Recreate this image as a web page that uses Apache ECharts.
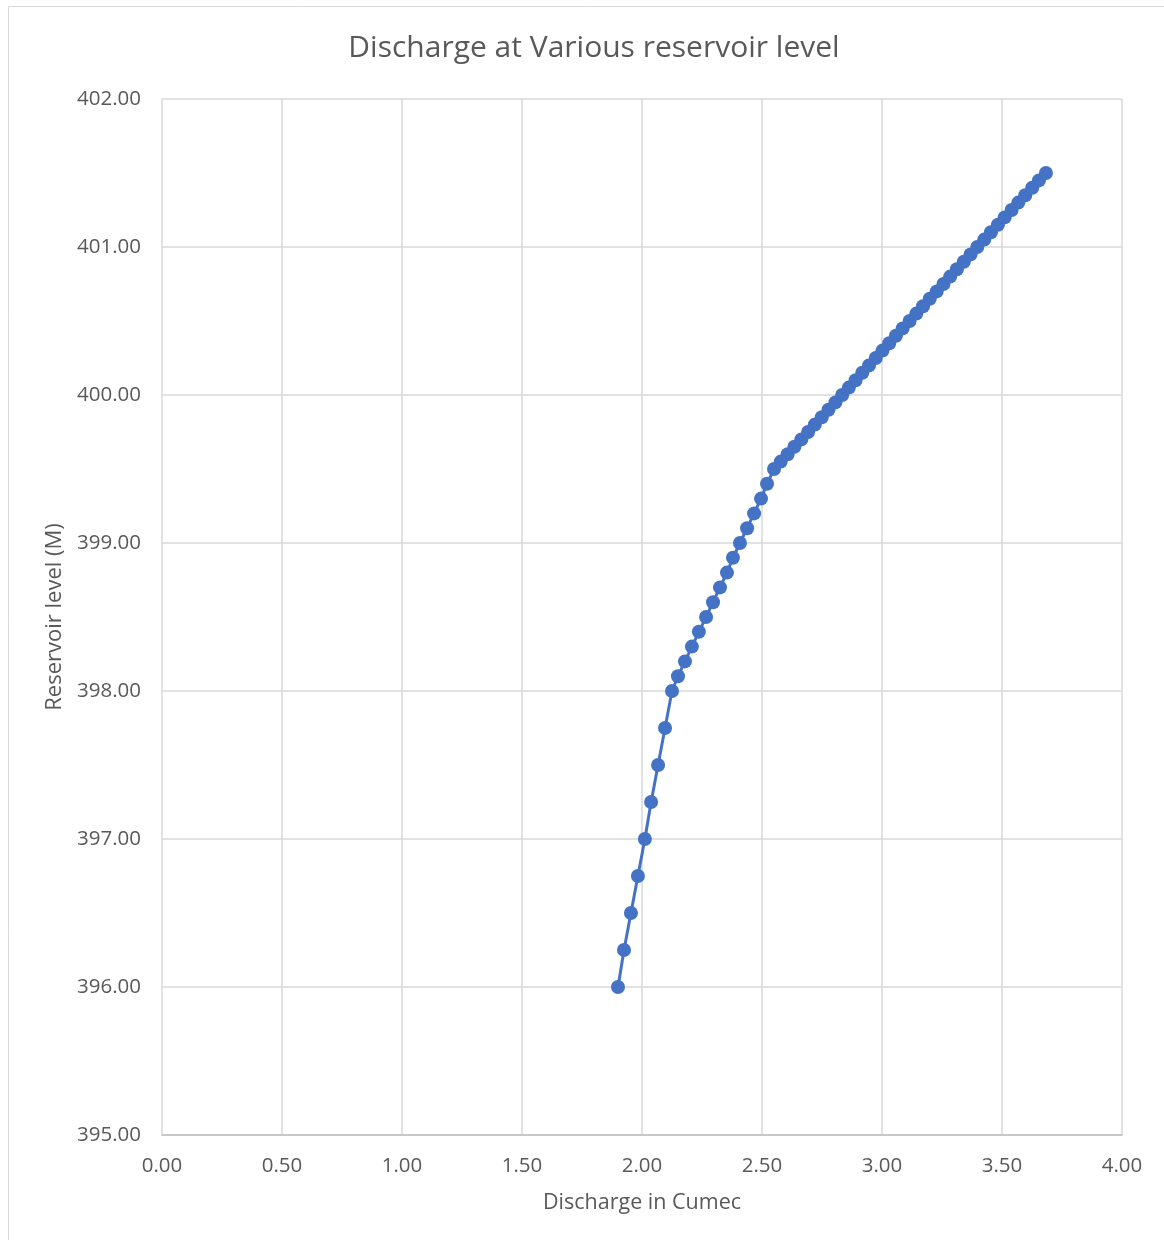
<!DOCTYPE html>
<html>
<head>
<meta charset="utf-8">
<script src="https://cdn.jsdelivr.net/npm/echarts@6/dist/echarts.min.js"></script>
<style>
  html, body { margin: 0; padding: 0; background: #ffffff; }
  #chart { width: 1164px; height: 1240px; }
</style>
</head>
<body>
<div id="chart"></div>
<script>
// Reservoir level (m) and the corresponding discharge (cumec)
const levels = [
  396.00, 396.25, 396.50, 396.75, 397.00, 397.25, 397.50, 397.75, 398.00,
  398.10, 398.20, 398.30, 398.40, 398.50, 398.60, 398.70, 398.80, 398.90, 399.00,
  399.10, 399.20, 399.30, 399.40, 399.50,
  399.55, 399.60, 399.65, 399.70, 399.75, 399.80, 399.85, 399.90, 399.95, 400.00,
  400.05, 400.10, 400.15, 400.20, 400.25, 400.30, 400.35, 400.40, 400.45, 400.50,
  400.55, 400.60, 400.65, 400.70, 400.75, 400.80, 400.85, 400.90, 400.95, 401.00,
  401.05, 401.10, 401.15, 401.20, 401.25, 401.30, 401.35, 401.40, 401.45, 401.50
];
const discharge = [
  1.900, 1.925, 1.954, 1.983, 2.012, 2.038, 2.067, 2.096, 2.125,
  2.150, 2.179, 2.208, 2.237, 2.267, 2.296, 2.325, 2.354, 2.379, 2.408,
  2.438, 2.467, 2.496, 2.521, 2.550,
  2.578, 2.607, 2.635, 2.664, 2.692, 2.720, 2.749, 2.777, 2.806, 2.834,
  2.862, 2.890, 2.918, 2.946, 2.974, 3.002, 3.030, 3.058, 3.086, 3.115,
  3.143, 3.171, 3.199, 3.228, 3.256, 3.284, 3.312, 3.341, 3.369, 3.397,
  3.426, 3.454, 3.483, 3.511, 3.540, 3.568, 3.597, 3.626, 3.654, 3.683
];

const titleText = 'Discharge at Various reservoir level';
const xName = 'Discharge in Cumec';
const yName = 'Reservoir level (M)';

const points = discharge.map((q, i) => [q, levels[i]]);

const textColor = '#595959';
const gridColor = '#d9d9d9';
const fontFamily = '"Open Sans", "Noto Sans", sans-serif';

const chart = echarts.init(document.getElementById('chart'), null, { renderer: 'canvas' });
chart.setOption({
  backgroundColor: '#ffffff',
  animation: false,
  title: {
    text: titleText,
    left: 589,
    textAlign: 'center',
    top: 28,
    textStyle: { color: textColor, fontSize: 30, fontWeight: 'normal', fontFamily: fontFamily }
  },
  graphic: [{
    type: 'rect',
    shape: { x: 8.5, y: 6.5, width: 1300, height: 1300 },
    style: { fill: 'none', stroke: gridColor, lineWidth: 1 },
    silent: true
  }],
  grid: { left: 162, right: 42, top: 99, bottom: 105, containLabel: false },
  xAxis: {
    type: 'value',
    min: 0,
    max: 4,
    interval: 0.5,
    name: xName,
    nameLocation: 'middle',
    nameGap: 57,
    nameTextStyle: { color: textColor, fontSize: 21.5, fontFamily: fontFamily },
    axisLine: { show: true, lineStyle: { color: '#bfbfbf', width: 1.5 } },
    axisTick: { show: false },
    axisLabel: {
      color: textColor, fontSize: 20.5, fontFamily: fontFamily, margin: 21,
      formatter: v => v.toFixed(2)
    },
    splitLine: { show: true, lineStyle: { color: gridColor, width: 1.5 } }
  },
  yAxis: {
    type: 'value',
    min: 395,
    max: 402,
    interval: 1,
    name: yName,
    nameLocation: 'middle',
    nameGap: 94,
    nameRotate: 90,
    nameTextStyle: { color: textColor, fontSize: 22, fontFamily: fontFamily },
    axisLine: { show: false },
    axisTick: { show: false },
    axisLabel: {
      color: textColor, fontSize: 20.5, fontFamily: fontFamily, margin: 21,
      formatter: v => v.toFixed(2)
    },
    splitLine: { show: true, lineStyle: { color: gridColor, width: 1.5 } }
  },
  series: [{
    type: 'line',
    data: points,
    symbol: 'circle',
    symbolSize: 14,
    showAllSymbol: true,
    lineStyle: { color: '#4472c4', width: 3 },
    itemStyle: { color: '#4472c4', borderWidth: 0 }
  }]
});
</script>
</body>
</html>
